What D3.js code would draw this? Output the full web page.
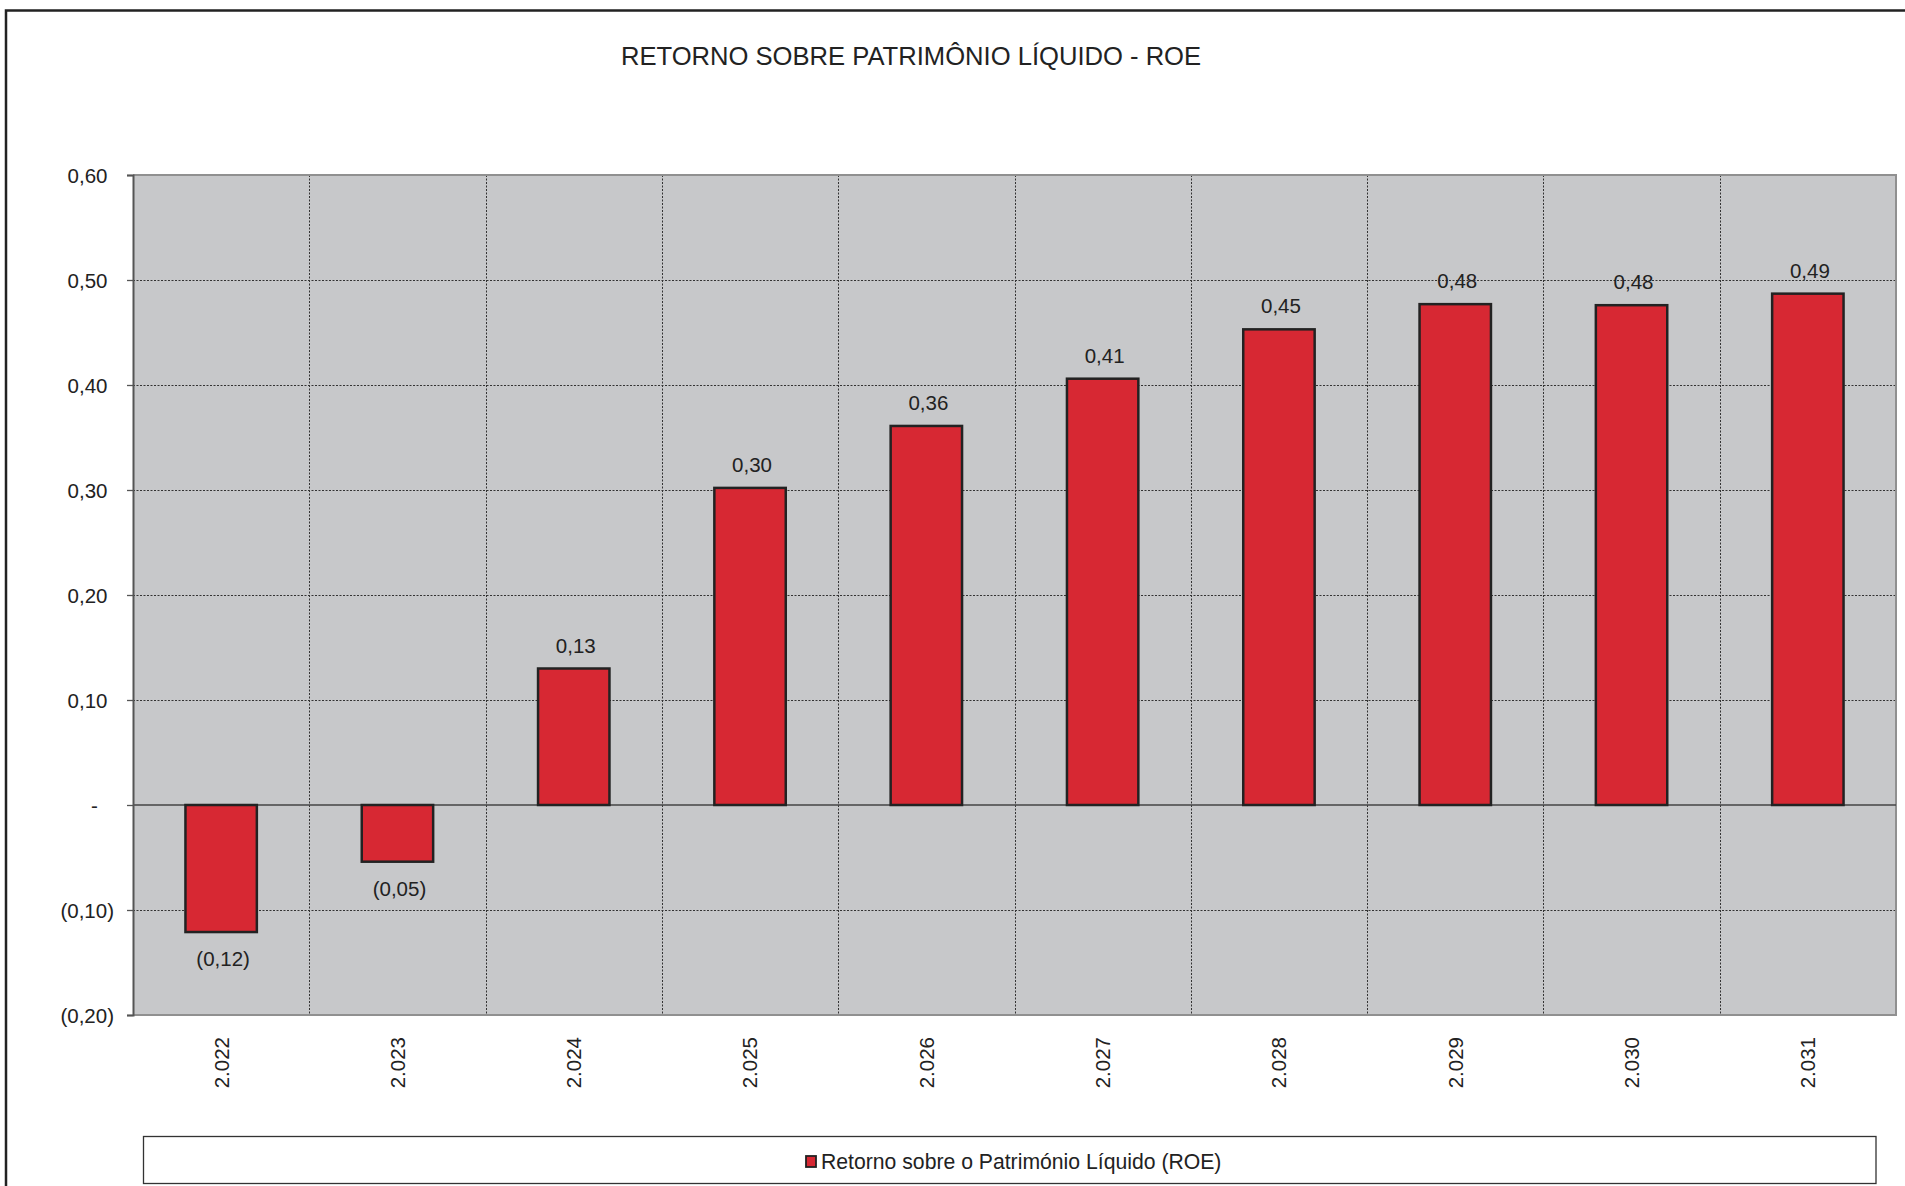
<!DOCTYPE html>
<html>
<head>
<meta charset="utf-8">
<script src="https://cdn.jsdelivr.net/npm/d3@7"></script>
<style>
  html, body { margin: 0; padding: 0; background: #fff; }
  svg { display: block; }
  text { font-family: "Liberation Sans", Arial, Helvetica, sans-serif; fill: #222; }
</style>
</head>
<body>
<svg id="chart" width="1905" height="1186"></svg>
<script>
const title = "RETORNO SOBRE PATRIMÔNIO LÍQUIDO - ROE";
const seriesName = "Retorno sobre o Património Líquido (ROE)";
const categories = ["2.022", "2.023", "2.024", "2.025", "2.026", "2.027", "2.028", "2.029", "2.030", "2.031"];
const roeValues = [-0.121, -0.054, 0.130, 0.302, 0.361, 0.406, 0.453, 0.477, 0.476, 0.487];
const yTicks = [-0.20, -0.10, 0, 0.10, 0.20, 0.30, 0.40, 0.50, 0.60];

const svg = d3.select("#chart");
const W = 1905, H = 1186;
const plot = { left: 133, right: 1896, top: 175, bottom: 1015 };

const fmt = v => {
  if (Math.abs(v) < 1e-9) return "-";
  const s = Math.abs(v).toFixed(2).replace(".", ",");
  return v < 0 ? "(" + s + ")" : s;
};

// outer frame
svg.append("rect")
  .attr("x", 6).attr("y", 10.5)
  .attr("width", W + 20).attr("height", H + 20)
  .attr("fill", "none").attr("stroke", "#222").attr("stroke-width", 2.5);

const x = d3.scaleBand().domain(categories).range([plot.left, plot.right]).paddingInner(0).paddingOuter(0);
const y = d3.scaleLinear().domain([-0.2, 0.6]).range([plot.bottom, plot.top]);

// plot background
svg.append("rect")
  .attr("x", plot.left).attr("y", plot.top)
  .attr("width", plot.right - plot.left).attr("height", plot.bottom - plot.top)
  .attr("fill", "#c7c8ca");

// horizontal gridlines
svg.append("g").selectAll("line")
  .data(yTicks.filter(t => t > -0.2 && t < 0.6 && Math.abs(t) > 1e-9))
  .join("line")
  .attr("x1", plot.left).attr("x2", plot.right)
  .attr("y1", d => Math.round(y(d)) + 0.5).attr("y2", d => Math.round(y(d)) + 0.5)
  .attr("stroke", "#333").attr("stroke-width", 1).attr("stroke-dasharray", "2,1.5");

// vertical gridlines between categories
svg.append("g").selectAll("line")
  .data(categories.slice(1))
  .join("line")
  .attr("x1", d => Math.round(x(d)) + 0.5).attr("x2", d => Math.round(x(d)) + 0.5)
  .attr("y1", plot.top).attr("y2", plot.bottom)
  .attr("stroke", "#333").attr("stroke-width", 1).attr("stroke-dasharray", "2,1.5");

// plot border: top/right/bottom gray
svg.append("path")
  .attr("d", `M${plot.left},${plot.top} H${plot.right} V${plot.bottom} H${plot.left}`)
  .attr("fill", "none").attr("stroke", "#909090").attr("stroke-width", 2);

// zero line
svg.append("line")
  .attr("x1", plot.left).attr("x2", plot.right)
  .attr("y1", y(0)).attr("y2", y(0))
  .attr("stroke", "#444").attr("stroke-width", 1.3);

// y axis
const yAxis = d3.axisLeft(y).tickValues(yTicks).tickSize(6).tickPadding(0).tickFormat(fmt);
const gy = svg.append("g").attr("transform", `translate(${plot.left},0)`).call(yAxis);
gy.select(".domain").attr("stroke", "#555").attr("stroke-width", 2);
gy.selectAll(".tick line").attr("stroke", "#555").attr("stroke-width", 1.3);
gy.selectAll(".tick text")
  .style("font-size", "20.5px")
  .attr("fill", "#222")
  .attr("dy", "0.35em")
  .attr("text-anchor", d => Math.abs(d) < 1e-9 ? "middle" : "end")
  .attr("x", d => Math.abs(d) < 1e-9 ? -38.5 : (d < 0 ? -19 : -25.5));

// x axis labels (rotated)
const xAxis = d3.axisBottom(x).tickSize(0).tickPadding(0);
const gx = svg.append("g").attr("transform", `translate(0,${plot.bottom})`).call(xAxis);
gx.select(".domain").remove();
gx.selectAll(".tick text")
  .style("font-size", "20.5px")
  .attr("fill", "#222")
  .attr("text-anchor", "end")
  .attr("transform", "rotate(-90)")
  .attr("x", -22)
  .attr("y", 0)
  .attr("dy", "0.36em");

// bars
const barW = x.bandwidth() * 0.405;
svg.append("g").selectAll("rect")
  .data(categories.map((c, i) => ({ c, v: roeValues[i] })))
  .join("rect")
  .attr("x", d => x(d.c) + (x.bandwidth() - barW) / 2)
  .attr("width", barW)
  .attr("y", d => Math.min(y(d.v), y(0)))
  .attr("height", d => Math.abs(y(d.v) - y(0)))
  .attr("fill", "#d72833")
  .attr("stroke", "#222")
  .attr("stroke-width", 2.5);

// value labels
svg.append("g").selectAll("text")
  .data(categories.map((c, i) => ({ c, v: roeValues[i] })))
  .join("text")
  .attr("x", d => x(d.c) + x.bandwidth() / 2 + 2)
  .attr("y", d => d.v >= 0 ? y(d.v) - 16 : y(d.v) + 34)
  .attr("text-anchor", "middle")
  .style("font-size", "20.5px")
  .text(d => fmt(d.v));

// title
svg.append("text")
  .attr("x", 911).attr("y", 65)
  .attr("text-anchor", "middle")
  .style("font-size", "25.6px")
  .text(title);

// legend
const lg = svg.append("g");
lg.append("rect")
  .attr("x", 143.5).attr("y", 1136.5)
  .attr("width", 1876 - 143.5).attr("height", 47)
  .attr("fill", "#fff").attr("stroke", "#333").attr("stroke-width", 1.3);
lg.append("rect")
  .attr("x", 806).attr("y", 1156)
  .attr("width", 10).attr("height", 11)
  .attr("fill", "#d72833").attr("stroke", "#222").attr("stroke-width", 1.8);
lg.append("text")
  .attr("x", 821).attr("y", 1161.5)
  .attr("dy", "0.35em")
  .style("font-size", "21.2px")
  .text(seriesName);
</script>
</body>
</html>
